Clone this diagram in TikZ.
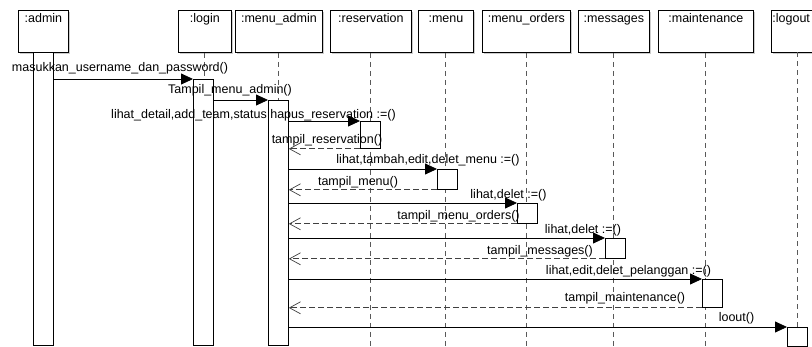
\documentclass[tikz,border=0pt]{standalone}
\usepackage{fontspec}
\setmainfont{Liberation Sans}
\usetikzlibrary{arrows.meta}
\begin{document}
\begin{tikzpicture}[x=1pt,y=-1pt,
  font=\fontsize{12.5}{14}\selectfont,
  headbox/.style={draw=black, line width=0.8pt, fill=white, anchor=north west,
    minimum height=42, inner xsep=0, inner ysep=2, text height=10, text depth=28},
  actbar/.style={draw=black, line width=0.8pt, fill=white, anchor=north west,
    minimum width=20, inner sep=0},
  lifeline/.style={draw=black!65, line width=0.9pt, dash pattern=on 5pt off 4pt},
  call/.style={draw=black, line width=0.8pt, -{Triangle[length=12pt,width=11pt]}},
  reply/.style={draw=black!75, line width=0.8pt, dash pattern=on 6pt off 3pt,
    -{Straight Barb[length=11pt,width=12pt,line width=0.7pt]}},
  msg/.style={inner sep=0, anchor=center},
  headshadow/.style={fill=black!20, draw=none}
]
\useasboundingbox (0,0) rectangle (812,346);
\fill[white] (0,0) rectangle (812,346);

% head shadows
\foreach \a/\b in {18/68,178/231,235/322,330/411,418/473,482/570,578/649,658/753,771/823}
  \fill[headshadow] (\a+2,12) rectangle (\b+2,54);

% heads
\node[headbox, minimum width=50] (hadmin) at (18,10) {:admin};
\node[headbox, minimum width=53] (hlogin) at (178,10) {:login};
\node[headbox, minimum width=87] (hmenuadmin) at (235,10) {:menu\_admin};
\node[headbox, minimum width=81] (hres) at (330,10) {:reservation};
\node[headbox, minimum width=55] (hmenu) at (418,10) {:menu};
\node[headbox, minimum width=88] (hmo) at (482,10) {:menu\_orders};
\node[headbox, minimum width=71] (hmsg) at (578,10) {:messages};
\node[headbox, minimum width=95] (hmt) at (658,10) {:maintenance};
\node[headbox, text width=50, align=left, inner xsep=1] (hlo) at (771,10) {:logout};

% lifelines
\coordinate (bot) at (0,346);
\coordinate (lotop) at (797,52);
\draw[lifeline] (hlogin.south) -- (hlogin.south |- bot);
\draw[lifeline] (hmenuadmin.south) -- (hmenuadmin.south |- bot);
\draw[lifeline] (hres.south) -- (hres.south |- bot);
\draw[lifeline] (hmenu.south) -- (hmenu.south |- bot);
\draw[lifeline] (hmo.south) -- (hmo.south |- bot);
\draw[lifeline] (hmsg.south) -- (hmsg.south |- bot);
\draw[lifeline] (hmt.south) -- (hmt.south |- bot);
\draw[lifeline] (lotop) -- (lotop |- bot);

% activation bars
\node[actbar, minimum height=293] (badmin) at (33,52) {};
\node[actbar, minimum height=266] (blogin) at (193,79) {};
\node[actbar, minimum height=245] (bma) at (268,100) {};
\node[actbar, minimum height=27] (bres) at (360,121) {};
\node[actbar, minimum height=20] (bmenu) at (437,169) {};
\node[actbar, minimum height=20] (bmo) at (517,203) {};
\node[actbar, minimum height=20] (bmsg) at (605,238) {};
\node[actbar, minimum height=28] (bmt) at (702,279) {};
\node[actbar, minimum height=19] (blo) at (787,327) {};

% messages
\draw[call] (badmin.east |- blogin.north) -- (blogin.north west);
\draw[call] (blogin.east |- bma.north) -- (bma.north west);
\draw[call] (bma.east |- bres.north) -- (bres.north west);
\draw[reply] (bres.south west) -- (bma.east |- bres.south);
\draw[call] (bma.east |- bmenu.north) -- (bmenu.north west);
\draw[reply] (bmenu.south west) -- (bma.east |- bmenu.south);
\draw[call] (bma.east |- bmo.north) -- (bmo.north west);
\draw[reply] (bmo.south west) -- (bma.east |- bmo.south);
\draw[call] (bma.east |- bmsg.north) -- (bmsg.north west);
\draw[reply] (bmsg.south west) -- (bma.east |- bmsg.south);
\draw[call] (bma.east |- bmt.north) -- (bmt.north west);
\draw[reply] (bmt.south west) -- (bma.east |- bmt.south);
\draw[call] (bma.east |- blo.north) -- (blo.north west);

% labels
\node[msg] (l1) at (120,68) {masukkan\_username\_dan\_password()};
\node[msg] (l2) at (230,90) {Tampil\_menu\_admin()};
\node[msg] (l3) at (253.5,115) {lihat\_detail,add\_team,status hapus\_reservation :=()};
\node[msg] (l4) at (327,140) {tampil\_reservation()};
\node[msg] (l5) at (428,160) {lihat,tambah,edit,delet\_menu :=()};
\node[msg] (l6) at (358,182) {tampil\_menu()};
\node[msg] (l7) at (508.5,195) {lihat,delet :=()};
\node[msg] (l8) at (458.5,216) {tampil\_menu\_orders()};
\node[msg] (l9) at (583,230) {lihat,delet :=()};
\node[msg] (l10) at (540,251) {tampil\_messages()};
\node[msg] (l11) at (628.5,271) {lihat,edit,delet\_pelanggan :=()};
\node[msg] (l12) at (625,298) {tampil\_maintenance()};
\node[msg] (l13) at (736.5,318) {loout()};
\end{tikzpicture}
\end{document}
